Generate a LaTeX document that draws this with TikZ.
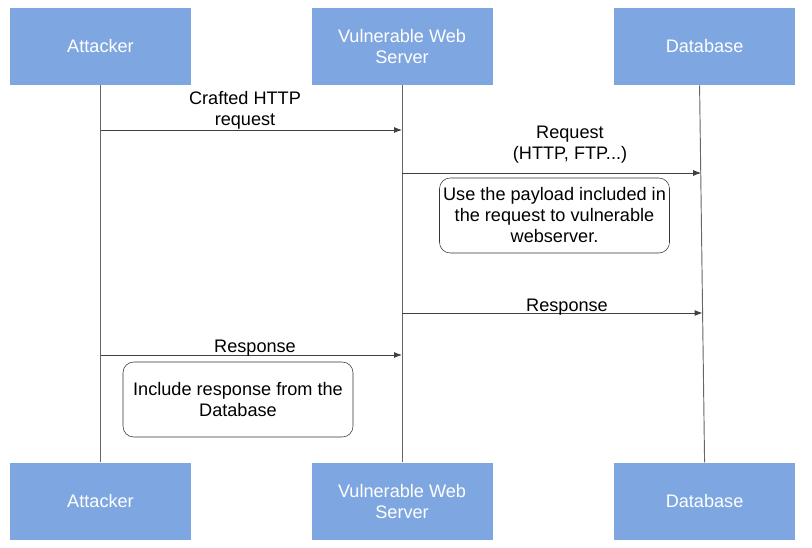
\documentclass[tikz,border=0pt]{standalone}
\usepackage{fontspec}
\setmainfont{Liberation Sans}
\usetikzlibrary{positioning, arrows.meta}
\definecolor{actorblue}{HTML}{7EA6E0}

\begin{document}
\begin{tikzpicture}[x=0.75pt, y=-0.75pt]
		\tikzstyle{every node}=[font=\fontsize{13.6}{15.75}\selectfont, align=center, inner sep=0pt]
		\tikzstyle{actor}=[rectangle, fill=actorblue, text=white, minimum width=135.75pt, minimum height=57.75pt]
		\tikzstyle{note}=[rectangle, draw=black!80, rounded corners=8pt, minimum width=172.5pt, minimum height=56.25pt]
		\tikzstyle{lifeline}=[draw=black!60, line width=0.7pt]
		\tikzstyle{msg}=[-{Latex[length=6pt, width=4.5pt]}, draw=black!75, line width=0.7pt]

		\useasboundingbox (0,0) rectangle (812,548);

		\node[actor] (attTop) at (100.5,46.5) {Attacker};
		\node[actor, right=90pt of attTop] (srvTop) {Vulnerable Web\\Server};
		\node[actor, right=90.75pt of srvTop] (dbTop) {Database};

		\node[actor, below=282.75pt of attTop] (attBot) {Attacker};
		\node[actor, below=282.75pt of srvTop] (srvBot) {Vulnerable Web\\Server};
		\node[actor, below=282.75pt of dbTop] (dbBot) {Database};

		\draw[lifeline] (attTop.south) -- (attBot.north);
		\draw[lifeline] (srvTop.south) -- (srvBot.north);
		\draw[lifeline] ([xshift=-3.75pt]dbTop.south) -- (dbBot.north);

		\coordinate (yCrafted) at (0,130);
		\coordinate (yRequest) at (0,173);
		\coordinate (yRespDb) at (0,313);
		\coordinate (yRespAtt) at (0,355);

		\draw[msg] (attTop |- yCrafted) -- (srvTop |- yCrafted);
		\draw[msg] (srvTop |- yRequest) -- ([xshift=-2.5pt]dbTop |- yRequest);
		\draw[msg] (srvTop |- yRespDb) -- ([xshift=-1.5pt]dbTop |- yRespDb);
		\draw[msg] (attTop |- yRespAtt) -- (srvTop |- yRespAtt);

		\node (lblCrafted) at (245,110) {Crafted HTTP\\request};
		\node (lblRequest) at (570,145) {Request\\(HTTP, FTP...)};
		\node (lblRespDb) at (567,307) {Response};
		\node (lblRespAtt) at (255,348) {Response};

		\node[note] (noteUse) at (554.5,215.5) {Use the payload included in\\the request to vulnerable\\webserver.};
		\node[note] (noteInclude) at (238,399.5) {Include response from the\\Database};

	\end{tikzpicture}
\end{document}
